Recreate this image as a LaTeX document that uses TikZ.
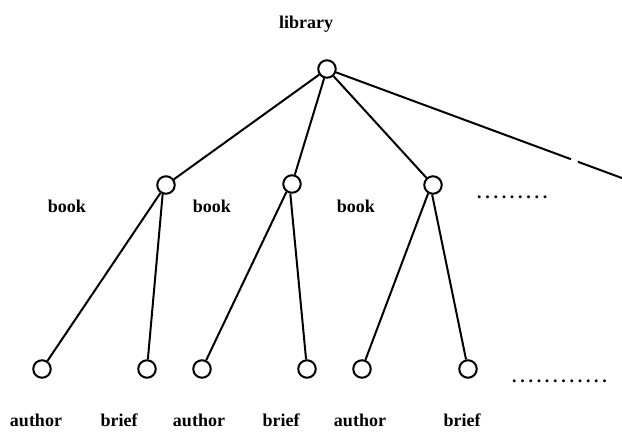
\documentclass[tikz,border=0pt]{standalone}
\usepackage{fontspec}
\setmainfont{Liberation Serif}
\begin{document}
\begin{tikzpicture}[x=1pt,y=-1pt,
  nd/.style={circle,draw,line width=2pt,minimum size=17.5pt,inner sep=0pt},
  lbl/.style={font=\fontsize{18}{20}\selectfont\bfseries,anchor=base,inner sep=0pt},
  edge/.style={line width=2pt}]
\newcommand\dd{.\kern3.7pt}
\useasboundingbox[fill=white] (0,0) rectangle (622,432);
% nodes
\node[nd] (root) at (327,69) {};
\node[nd] (b1) at (166,185) {};
\node[nd] (b2) at (292,184) {};
\node[nd] (b3) at (433,185) {};
\node[nd] (a1) at (42,369) {};
\node[nd] (r1) at (147,369) {};
\node[nd] (a2) at (202,369) {};
\node[nd] (r2) at (307,369) {};
\node[nd] (a3) at (362,369) {};
\node[nd] (r3) at (468,369) {};
% labels
\node[lbl] (tlib) at (306,28) {library};
\node[lbl] (tb1) at (67,212) {book};
\node[lbl] (tb2) at (212,212) {book};
\node[lbl] (tb3) at (356,212) {book};
\node[lbl] (ta1) at (36,426) {author};
\node[lbl] (tr1) at (119,426) {brief};
\node[lbl] (ta2) at (199,426) {author};
\node[lbl] (tr2) at (281,426) {brief};
\node[lbl] (ta3) at (360,426) {author};
\node[lbl] (tr3) at (462,426) {brief};
\node[lbl,anchor=base west] (dtop) at (477,198) {\dd\dd\dd\dd\dd\dd\dd\dd.};
\node[lbl,anchor=base west] (dbot) at (512,382) {\dd\dd\dd\dd\dd\dd\dd\dd\dd\dd\dd.};
% connectors
\coordinate (g1) at (571,159.2);
\coordinate (g2) at (578,161.8);
\coordinate (e) at (624,178.8);
\draw[edge] (root) -- (b1);
\draw[edge] (root) -- (b2);
\draw[edge] (root) -- (b3);
\draw[edge] (root) -- (g1);
\draw[edge] (g2) -- (e);
\draw[edge] (b1.235) -- (a1);
\draw[edge] (b1.250) -- (r1);
\draw[edge] (b2.235) -- (a2);
\draw[edge] (b2.260) -- (r2);
\draw[edge] (b3.240) -- (a3);
\draw[edge] (b3.265) -- (r3);
\end{tikzpicture}
\end{document}
